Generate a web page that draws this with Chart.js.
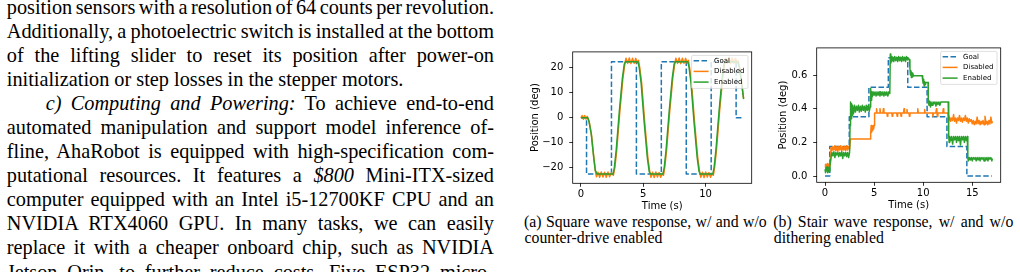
<!DOCTYPE html>
<html><head><meta charset="utf-8">
<script src="https://cdn.jsdelivr.net/npm/chart.js@4.4.0/dist/chart.umd.min.js"></script>
<style>
html,body{margin:0;padding:0;background:#fff;width:1020px;height:272px;overflow:hidden;position:relative}
.txt{position:absolute;left:0;top:0;font-family:"Liberation Serif","Times New Roman",serif;color:#000}
.ln{position:absolute;white-space:nowrap}
.body .ln{font-size:20.3px;line-height:24.05px;height:24.05px}
.cap .ln{font-size:15.8px;line-height:16px;height:16px}
canvas{position:absolute}
</style></head>
<body>
<div class="txt body">
<div class="ln" style="left:6.8px;top:-5.05px" data-w="487.2"><span class="t">position sensors with a resolution of 64 counts per revolution.</span></div>
<div class="ln" style="left:6.8px;top:19px" data-w="487.2"><span class="t">Additionally, a photoelectric switch is installed at the bottom</span></div>
<div class="ln" style="left:6.8px;top:43.05px" data-w="487.2"><span class="t">of the lifting slider to reset its position after power-on</span></div>
<div class="ln" style="left:6.8px;top:67.1px"><span class="t">initialization or step losses in the stepper motors.</span></div>
<div class="ln" style="left:45.7px;top:91.15px" data-w="448.3"><span class="t"><i>c) Computing and Powering:</i> To achieve end-to-end</span></div>
<div class="ln" style="left:6.8px;top:115.2px" data-w="487.2"><span class="t">automated manipulation and support model inference of-</span></div>
<div class="ln" style="left:6.8px;top:139.25px" data-w="487.2"><span class="t">fline, AhaRobot is equipped with high-specification com-</span></div>
<div class="ln" style="left:6.8px;top:163.3px" data-w="487.2"><span class="t">putational resources. It features a <i>$800</i> Mini-ITX-sized</span></div>
<div class="ln" style="left:6.8px;top:187.35px" data-w="487.2"><span class="t">computer equipped with an Intel i5-12700KF CPU and an</span></div>
<div class="ln" style="left:6.8px;top:211.4px" data-w="487.2"><span class="t">NVIDIA RTX4060 GPU. In many tasks, we can easily</span></div>
<div class="ln" style="left:6.8px;top:235.45px" data-w="487.2"><span class="t">replace it with a cheaper onboard chip, such as NVIDIA</span></div>
<div class="ln" style="left:6.8px;top:259.5px" data-w="487.2"><span class="t">Jetson Orin, to further reduce costs. Five ESP32 micro-</span></div>
</div>
<div class="txt cap">
<div class="ln" style="left:524px;top:214px" data-w="242.7"><span class="t">(a) Square wave response, w/ and w/o</span></div>
<div class="ln" style="left:524.5px;top:230px"><span class="t">counter-drive enabled</span></div>
<div class="ln" style="left:773.3px;top:214px" data-w="240"><span class="t">(b) Stair wave response, w/ and w/o</span></div>
<div class="ln" style="left:773.8px;top:230px"><span class="t">dithering enabled</span></div>
</div>
<canvas id="ca" width="250" height="180" style="left:520px;top:40px"></canvas>
<canvas id="cb" width="250" height="184" style="left:770px;top:36px"></canvas>
<script>
// ---------------- data: (a) square wave response ----------------
const seriesNames = ['Goal', 'Disabled', 'Enabled'];
const sqXTicks = [0, 5, 10];
const sqYTicks = [-20, -10, 0, 10, 20];
const sqGoal = [[0,0],[0.45,-22.5],[2.45,22.5],[4.45,-22.5],[6.45,22.5],[8.45,-22.5],[10.45,22.5],[12.45,0],[13.0,0]];
const sqDisabled = [
 [0,0],[0.1,0.9],[0.2,-0.6],[0.3,0.9],[0.4,-0.5],[0.5,0.6],[0.58,-0.5],
 [0.68,-2],[0.85,-7],[1.04,-16],[1.17,-21.5],
 [1.25,-23.6],[1.37,-21.8],[1.5,-23.8],[1.63,-21.7],[1.77,-23.7],[1.9,-21.8],[2.03,-23.8],[2.17,-21.7],[2.3,-23.6],[2.45,-21.9],[2.6,-23.0],
 [2.72,-20],[2.87,-13],[3.12,2.5],[3.37,16],[3.52,21.5],
 [3.62,23.9],[3.75,21.8],[3.88,24],[4.01,21.7],[4.14,23.9],[4.27,21.8],[4.4,23.8],[4.53,22],[4.62,23],
 [4.72,20],[4.87,14],[5.12,-2],[5.37,-16],[5.52,-21.5],
 [5.62,-23.8],[5.75,-21.8],[5.88,-23.9],[6.01,-21.7],[6.14,-23.7],[6.27,-21.9],[6.4,-23.8],[6.53,-22.2],[6.62,-23],
 [6.72,-20],[6.87,-13],[7.12,2.5],[7.37,16],[7.52,21.5],
 [7.62,23.9],[7.75,21.8],[7.88,24],[8.01,21.7],[8.14,23.9],[8.27,21.8],[8.4,23.8],[8.53,22],[8.62,23],
 [8.72,20],[8.87,14],[9.12,-2],[9.37,-16],[9.52,-21.5],
 [9.62,-23.8],[9.75,-21.8],[9.88,-23.9],[10.01,-21.7],[10.14,-23.7],[10.27,-21.9],[10.4,-23.8],[10.53,-22.2],[10.62,-23],
 [10.72,-20],[10.87,-13],[11.12,2.5],[11.37,16],[11.52,21.5],
 [11.62,23.9],[11.75,21.8],[11.88,24],[12.01,21.7],[12.14,23.9],[12.27,21.8],[12.4,23.8],[12.53,22],[12.62,22.8],
 [12.72,20.5],[12.88,15],[13.05,7.8]
];
const sqEnabled = [
 [0,0],[0.55,0],[0.65,-1.5],[0.83,-6.4],[1.02,-15.6],[1.15,-21],[1.3,-22.5],
 [2.58,-22.5],[2.68,-20],[2.83,-13],[3.08,2.5],[3.33,16],[3.48,21.5],[3.58,22.5],
 [4.58,22.5],[4.68,20],[4.83,14],[5.08,-2],[5.33,-16],[5.48,-21.5],[5.58,-22.5],
 [6.58,-22.5],[6.68,-20],[6.83,-13],[7.08,2.5],[7.33,16],[7.48,21.5],[7.58,22.5],
 [8.58,22.5],[8.68,20],[8.83,14],[9.08,-2],[9.33,-16],[9.48,-21.5],[9.58,-22.5],
 [10.58,-22.5],[10.68,-20],[10.83,-13],[11.08,2.5],[11.33,16],[11.48,21.5],[11.58,22.5],
 [12.58,22.5],[12.7,20.5],[12.86,15],[13.05,7.5]
];

// ---------------- data: (b) stair wave response ----------------
const stXTicks = [0, 5, 10, 15];
const stYTicks = [0.0, 0.2, 0.4, 0.6];
const stGoal = [[0,0],[0.48,0.176],[2.47,0.352],[4.47,0.527],[6.45,0.703],[8.43,0.527],[10.4,0.352],[12.42,0.176],[14.45,0],[17.0,0]];
const stDisabled = [
 [0,0.05],[0.05,0.07],[0.1,0.045],[0.15,0.07],[0.2,0.05],[0.25,0.075],[0.3,0.045],[0.35,0.07],[0.4,0.05],[0.45,0.07],[0.5,0.06],
 [0.55,0.12],[0.6,0.17],[0.7,0.15],[0.8,0.175],[0.9,0.155],[1.0,0.18],[1.1,0.15],[1.2,0.175],[1.3,0.145],[1.4,0.175],[1.5,0.155],[1.6,0.18],[1.7,0.15],[1.8,0.175],[1.9,0.155],[2.0,0.175],[2.1,0.15],[2.2,0.18],[2.3,0.155],[2.4,0.175],[2.5,0.16],
 [2.6,0.22],[4.6,0.22],
 [4.65,0.25],[4.7,0.3],[4.75,0.26],[4.8,0.29],[4.85,0.27],[4.9,0.3],[4.95,0.28],[5.0,0.3],
 [5.05,0.375],[5.2,0.375],[5.25,0.4],[5.3,0.375],[5.55,0.375],[5.6,0.4],[5.65,0.375],[5.9,0.375],[5.95,0.4],[6.0,0.375],[6.3,0.375],[6.35,0.355],[6.4,0.375],[6.8,0.375],[6.85,0.355],[6.9,0.375],[7.3,0.375],[7.35,0.355],[7.4,0.375],[7.7,0.375],[7.75,0.355],[7.8,0.375],[8.0,0.375],[8.05,0.4],[8.1,0.375],[8.3,0.375],[8.35,0.395],[8.4,0.375],[8.55,0.375],[8.6,0.355],[8.65,0.375],[9.4,0.375],[9.45,0.4],[9.5,0.375],[10.1,0.375],[10.15,0.395],[10.2,0.375],[10.95,0.375],[11.0,0.355],[11.05,0.375],[11.3,0.375],[11.35,0.4],[11.4,0.375],[11.45,0.355],[11.5,0.375],[12.0,0.375],[12.05,0.4],[12.1,0.375],[12.5,0.375],
 [12.55,0.36],[12.6,0.33],[12.7,0.35],[12.8,0.325],[12.9,0.345],[13.0,0.33],[13.1,0.365],[13.2,0.325],[13.3,0.345],[13.4,0.315],[13.5,0.345],[13.6,0.33],[13.7,0.36],[13.8,0.325],[13.9,0.345],[14.0,0.32],[14.1,0.345],[14.2,0.33],[14.3,0.36],[14.4,0.325],[14.5,0.345],[14.6,0.315],[14.7,0.34],[14.8,0.325],[14.9,0.335],
 [15.0,0.31],[15.1,0.33],[15.2,0.305],[15.3,0.325],[15.4,0.31],[15.5,0.35],[15.6,0.31],[15.7,0.33],[15.8,0.305],[15.9,0.325],[16.0,0.31],[16.1,0.33],[16.2,0.305],[16.3,0.355],[16.4,0.31],[16.5,0.325],[16.6,0.305],[16.7,0.33],[16.8,0.31],[16.9,0.35],[17.0,0.315],[17.05,0.325]
];
const stEnabled = [
 [0,0.04],[0.05,0.02],[0.1,0.05],[0.15,0.03],[0.2,0.055],[0.25,0.02],[0.3,0.045],[0.35,0.025],[0.4,0.05],[0.45,0.03],[0.5,0.06],[0.6,0.1],[0.65,0.13],
 [0.7,0.14],[0.8,0.12],[0.9,0.145],[1.0,0.11],[1.1,0.14],[1.2,0.125],[1.3,0.14],[1.4,0.115],[1.5,0.14],[1.6,0.12],[1.7,0.145],[1.8,0.105],[1.9,0.14],[2.0,0.12],[2.1,0.14],[2.2,0.115],[2.3,0.14],[2.4,0.11],[2.5,0.14],
 [2.55,0.3],[2.6,0.44],[2.65,0.34],[2.7,0.43],[2.75,0.36],[2.8,0.42],[2.9,0.37],[3.0,0.42],[3.1,0.38],[3.2,0.415],[3.3,0.39],[3.4,0.42],[3.5,0.38],[3.6,0.415],[3.7,0.385],[3.8,0.42],[3.9,0.39],[4.0,0.415],[4.1,0.38],[4.2,0.42],[4.3,0.39],[4.4,0.42],[4.5,0.385],[4.6,0.41],
 [4.65,0.52],[4.7,0.45],[4.75,0.5],[4.8,0.47],[4.9,0.5],[5.0,0.48],[5.1,0.5],[5.2,0.475],[5.3,0.5],[5.4,0.48],[5.5,0.5],[5.6,0.475],[5.7,0.5],[5.8,0.48],[5.9,0.5],[6.0,0.475],[6.1,0.5],[6.2,0.48],[6.3,0.5],[6.4,0.475],[6.5,0.5],[6.6,0.49],
 [6.65,0.725],[6.7,0.67],[6.75,0.71],[6.8,0.68],[6.9,0.705],[7.0,0.68],[7.1,0.71],[7.2,0.685],[7.3,0.705],[7.4,0.68],[7.5,0.71],[7.6,0.685],[7.7,0.705],[7.8,0.68],[7.9,0.71],[8.0,0.685],[8.1,0.705],[8.2,0.68],[8.3,0.71],[8.4,0.69],[8.5,0.7],[8.6,0.69],
 [8.65,0.64],[8.7,0.6],[8.75,0.625],[8.8,0.585],[8.85,0.615],[8.9,0.59],[8.95,0.61],[9.0,0.595],[9.9,0.595],[9.95,0.57],[10.0,0.55],[10.05,0.575],[10.1,0.535],[10.15,0.56],[10.2,0.545],[10.25,0.555],[10.5,0.555],
 [10.52,0.44],[10.6,0.42],[10.65,0.445],[10.75,0.41],[10.8,0.44],[10.9,0.42],[11.0,0.44],[11.1,0.43],[11.2,0.44],[11.3,0.415],[11.4,0.44],[11.5,0.425],[11.6,0.44],[11.7,0.42],[11.8,0.44],[12.55,0.44],
 [12.6,0.24],[12.65,0.2],[12.7,0.235],[12.8,0.21],[12.9,0.235],[13.0,0.19],[13.1,0.235],[13.2,0.215],[13.3,0.235],[13.4,0.2],[13.5,0.235],[13.6,0.21],[13.7,0.235],[13.8,0.185],[13.9,0.235],[14.0,0.215],[14.1,0.235],[14.2,0.2],[14.3,0.235],[14.4,0.21],[14.5,0.235],
 [14.55,0.11],[14.6,0.09],[14.7,0.11],[14.8,0.095],[14.9,0.11],[15.0,0.09],[15.1,0.11],[15.2,0.1],[15.3,0.11],[15.4,0.09],[15.5,0.11],[15.6,0.095],[15.7,0.11],[15.8,0.09],[15.9,0.11],[16.0,0.1],[16.1,0.11],[16.2,0.09],[16.3,0.11],[16.4,0.095],[16.5,0.11],[16.6,0.09],[16.7,0.11],[16.8,0.1],[16.9,0.11],[17.0,0.09],[17.05,0.105]
];

// ---------------- text justification ----------------
function justify(){
  document.querySelectorAll('.ln[data-w]').forEach(el=>{
    const sp = el.querySelector('.t');
    sp.style.wordSpacing = '0px';
    const w = sp.getBoundingClientRect().width;
    const n = (sp.textContent.match(/ /g)||[]).length;
    if(n>0) sp.style.wordSpacing = ((parseFloat(el.dataset.w)-w)/n)+'px';
  });
}

// ---------------- chart helpers ----------------
const COLORS = ['#1f77b4', '#ff7f0e', '#2ca02c'];
const toXY = arr => arr.map(([x,y]) => ({x, y}));

const framePlugin = {
  id: 'frame',
  afterDatasetsDraw(chart){
    const {ctx, chartArea: a} = chart;
    ctx.save();
    ctx.strokeStyle = '#000'; ctx.lineWidth = 0.8;
    ctx.strokeRect(a.left, a.top, a.right - a.left, a.bottom - a.top);
    ctx.restore();
  }
};
const legendPlugin = {
  id: 'insideLegend',
  afterDatasetsDraw(chart){
    const {ctx, chartArea: a} = chart;
    const ds = chart.data.datasets;
    ctx.save();
    ctx.font = '7px "DejaVu Sans"';
    const tw = Math.max(...ds.map(d => ctx.measureText(d.label).width));
    const w = 22.5 + tw + 3.5, h = 33;
    const x = a.right - 3.7 - w, y = a.top + 3.5;
    ctx.beginPath();
    ctx.roundRect(x, y, w, h, 1.5);
    ctx.fillStyle = 'rgba(255,255,255,0.8)'; ctx.fill();
    ctx.strokeStyle = 'rgba(204,204,204,0.8)'; ctx.lineWidth = 0.8; ctx.stroke();
    ds.forEach((d, i) => {
      const cy = y + 5.3 + i * 10.7;
      ctx.strokeStyle = d.borderColor; ctx.lineWidth = 1.5;
      ctx.setLineDash(d.borderDash || []);
      ctx.beginPath(); ctx.moveTo(x + 2, cy); ctx.lineTo(x + 17, cy); ctx.stroke();
      ctx.setLineDash([]);
      ctx.fillStyle = '#000'; ctx.textBaseline = 'middle'; ctx.textAlign = 'left';
      ctx.fillText(d.label, x + 22.5, cy);
    });
    ctx.restore();
  }
};

function datasetsFrom(goal, disabled, enabled){
  return [
    {label: seriesNames[0], data: toXY(goal), borderColor: COLORS[0], borderDash: [5.5, 2.4], stepped: true, order: 3, borderCapStyle: 'butt'},
    {label: seriesNames[1], data: toXY(disabled), borderColor: COLORS[1], order: 2},
    {label: seriesNames[2], data: toXY(enabled), borderColor: COLORS[2], order: 1}
  ];
}

function makeChart(id, c){
  const tickGrid = {display: true, drawOnChartArea: false, drawTicks: true, tickLength: 3.5, tickWidth: 0.8, tickColor: '#000', color: '#000', lineWidth: 0.8};
  return new Chart(document.getElementById(id), {
    type: 'line',
    data: {datasets: c.datasets},
    options: {
      responsive: false, animation: false, devicePixelRatio: 1,
      layout: {padding: {left: 0, top: c.padTop, right: c.padRight, bottom: 0}},
      plugins: {legend: {display: false}, tooltip: {enabled: false}},
      elements: {point: {radius: 0}, line: {tension: 0, borderWidth: 1.5, borderJoinStyle: 'round', fill: false}},
      scales: {
        x: {
          type: 'linear', min: c.xMin, max: c.xMax,
          afterBuildTicks: s => { s.ticks = c.xTicks.map(v => ({value: v})); },
          afterFit: s => { s.height = c.xAxisH; },
          grid: tickGrid, border: {display: false},
          ticks: {padding: 2, color: '#000', font: {size: 10, family: 'DejaVu Sans'}, maxRotation: 0, autoSkip: false, callback: v => String(v)},
          title: {display: true, text: 'Time (s)', color: '#000', font: {size: 10, family: 'DejaVu Sans'}, padding: {top: 0, bottom: c.xTitlePad}}
        },
        y: {
          type: 'linear', min: c.yMin, max: c.yMax,
          afterBuildTicks: s => { s.ticks = c.yTicks.map(v => ({value: v})); },
          afterFit: s => { s.width = c.yAxisW; },
          grid: tickGrid, border: {display: false},
          ticks: {padding: 5.9, color: '#000', font: {size: 10, family: 'DejaVu Sans'}, autoSkip: false, callback: c.yFmt},
          title: {display: true, text: 'Position (deg)', color: '#000', font: {size: 10, family: 'DejaVu Sans'}, padding: {top: c.yTitlePad, bottom: 0}}
        }
      }
    },
    plugins: [framePlugin, legendPlugin]
  });
}

function draw(){
  justify();
  makeChart('ca', {
    datasets: datasetsFrom(sqGoal, sqDisabled, sqEnabled),
    padTop: 10, padRight: 18.3, xAxisH: 36.7, yAxisW: 52.7,
    xMin: -0.66, xMax: 13.7, yMin: -26.2, yMax: 26.4,
    xTicks: sqXTicks, yTicks: sqYTicks,
    yFmt: v => (v < 0 ? '\u2212' + Math.abs(v) : String(v)),
    xTitlePad: 7.2, yTitlePad: 9.5
  });
  makeChart('cb', {
    datasets: datasetsFrom(stGoal, stDisabled, stEnabled),
    padTop: 10.3, padRight: 19.3, xAxisH: 37.7, yAxisW: 46.7,
    xMin: -0.85, xMax: 17.9, yMin: -0.037, yMax: 0.761,
    xTicks: stXTicks, yTicks: stYTicks,
    yFmt: v => v.toFixed(1),
    xTitlePad: 8.2, yTitlePad: 7.8
  });
}
if (document.fonts && document.fonts.ready) { document.fonts.ready.then(draw); } else { draw(); }
</script>
</body></html>
